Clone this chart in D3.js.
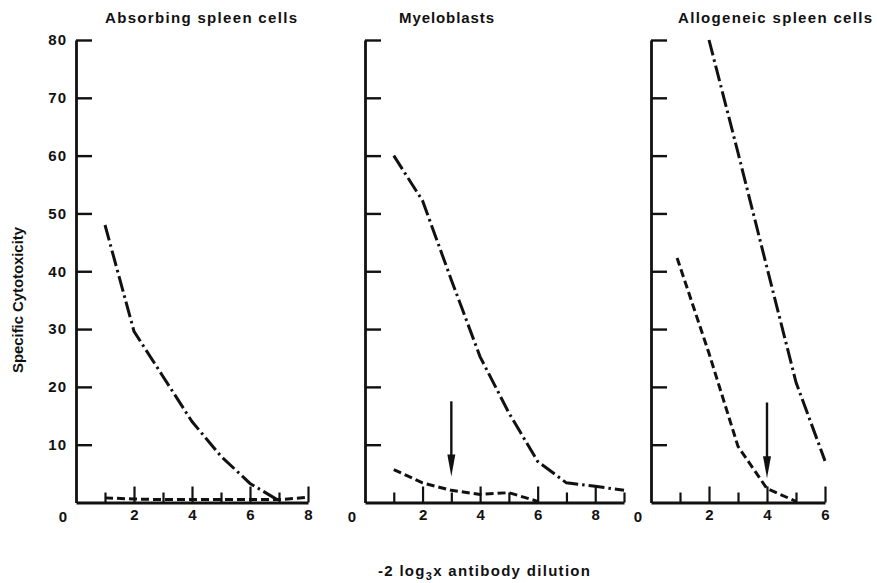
<!DOCTYPE html>
<html>
<head>
<meta charset="utf-8">
<script src="https://cdn.jsdelivr.net/npm/d3@7"></script>
<style>
  html, body { margin: 0; padding: 0; background: #fff; }
  svg text { font-family: "Liberation Sans", Arial, sans-serif; font-weight: bold; fill: #111; }
</style>
</head>
<body>
<svg id="chart" width="877" height="583"></svg>
<script>
// ---- data ----
const panelTitles = ["Absorbing spleen cells", "Myeloblasts", "Allogeneic spleen cells"];
const yTickValues = [10, 20, 30, 40, 50, 60, 70, 80];
const xMax = [8, 9, 6];

const absorbingDashDotX = [1, 2, 3, 4, 5, 6, 7];
const absorbingDashDot  = [48, 29.6, 21.8, 14, 8, 3.3, 0.3];
const absorbingDashedX  = [1, 2, 3, 4, 5, 6, 7, 8];
const absorbingDashed   = [0.8, 0.6, 0.5, 0.5, 0.5, 0.5, 0.5, 0.9];

const myeloDashDotX = [1, 2, 3, 4, 5, 6, 7, 8, 9];
const myeloDashDot  = [60, 52.2, 38.5, 25.2, 15.5, 7.1, 3.4, 2.8, 2.1];
const myeloDashedX  = [1, 2, 3, 4, 5, 6];
const myeloDashed   = [5.7, 3.4, 2.1, 1.4, 1.7, 0.2];

const alloDashDotX = [2, 3, 4, 5, 6];
const alloDashDot  = [80, 60.5, 40.6, 20.8, 7.2];
const alloDashedX  = [0.9, 2, 3, 4, 5];
const alloDashed   = [42.3, 25.8, 9.7, 2.4, 0.2];

// arrows: [x, top value, tip value] per panel (none in the first)
const arrowX    = [null, 3, 4];
const arrowTop  = [null, 17.5, 17.3];
const arrowTip  = [null, 4.5, 4.2];

const yLabel = "Specific Cytotoxicity";

// ---- layout ----
const svg = d3.select("#chart");
const pixelX = [[76, 308], [365, 624], [651, 825]];
const yPix = [502.5, 40];
const titleBox = [[105, 297], [399, 494], [678, 872]];
const series = [
  {dd: [absorbingDashDotX, absorbingDashDot], da: [absorbingDashedX, absorbingDashed]},
  {dd: [myeloDashDotX, myeloDashDot], da: [myeloDashedX, myeloDashed]},
  {dd: [alloDashDotX, alloDashDot], da: [alloDashedX, alloDashed]}
];

const y = d3.scaleLinear().domain([0, 80]).range(yPix);

panelTitles.forEach((title, i) => {
  const x = d3.scaleLinear().domain([0, xMax[i]]).range(pixelX[i]);
  const g = svg.append("g");

  // y axis
  const yAxis = d3.axisLeft(y).tickValues(yTickValues).tickSizeInner(-16).tickSizeOuter(0)
    .tickPadding(9).tickFormat(i === 0 ? d3.format("d") : () => "");
  const ya = g.append("g").attr("transform", `translate(${pixelX[i][0]},0)`).call(yAxis);
  ya.select(".domain").attr("stroke", "#111").attr("stroke-width", 2.8);
  ya.selectAll(".tick line").attr("stroke", "#111").attr("stroke-width", 2.4);
  ya.selectAll(".tick text").style("font-size", "15px").style("letter-spacing", "1px").attr("fill", "#111");

  // x axis: minor (odd) ticks
  const all = d3.range(1, xMax[i] + 1);
  const odd = all.filter(v => v % 2 === 1);
  const even = all.filter(v => v % 2 === 0);
  const xMinor = d3.axisBottom(x).tickValues(odd).tickSizeInner(-10).tickSizeOuter(0).tickFormat(() => "");
  const xm = g.append("g").attr("transform", `translate(0,${yPix[0]})`).call(xMinor);
  xm.select(".domain").attr("stroke", "#111").attr("stroke-width", 2.8);
  xm.selectAll(".tick line").attr("stroke", "#111").attr("stroke-width", 2.2);

  const xMajor = d3.axisBottom(x).tickValues(even).tickSizeInner(-16).tickSizeOuter(0).tickPadding(7)
    .tickFormat(d3.format("d"));
  const xM = g.append("g").attr("transform", `translate(0,${yPix[0]})`).call(xMajor);
  xM.select(".domain").remove();
  xM.selectAll(".tick line").attr("stroke", "#111").attr("stroke-width", 2.2);
  xM.selectAll(".tick text").style("font-size", "15px").attr("fill", "#111");

  // origin label
  g.append("text").attr("x", x(0) - 13).attr("y", yPix[0] + 19)
    .attr("text-anchor", "middle").style("font-size", "15px").text("0");

  // title
  g.append("text").attr("x", titleBox[i][0]).attr("y", 23)
    .attr("textLength", titleBox[i][1] - titleBox[i][0]).attr("lengthAdjust", "spacing")
    .style("font-size", "15px").text(title);

  const line = d3.line().x(d => x(d[0])).y(d => y(d[1]));
  const s = series[i];
  g.append("path").datum(d3.zip(s.dd[0], s.dd[1])).attr("d", line)
    .attr("fill", "none").attr("stroke", "#111").attr("stroke-width", 3)
    .attr("stroke-dasharray", "16,4,2.5,4");
  g.append("path").datum(d3.zip(s.da[0], s.da[1])).attr("d", line)
    .attr("fill", "none").attr("stroke", "#111").attr("stroke-width", 3)
    .attr("stroke-dasharray", "8,4");

  // arrow
  if (arrowX[i] !== null) {
    const ax = x(arrowX[i]), yt = y(arrowTop[i]), yb = y(arrowTip[i]);
    g.append("line").attr("x1", ax).attr("x2", ax).attr("y1", yt).attr("y2", yb - 18)
      .attr("stroke", "#111").attr("stroke-width", 2.4);
    g.append("path").attr("d", `M${ax - 4},${yb - 22} L${ax + 4},${yb - 22} L${ax},${yb} Z`)
      .attr("fill", "#111");
  }
});

// y label
svg.append("text").attr("transform", "translate(23,300) rotate(-90)")
  .attr("text-anchor", "middle").attr("textLength", 146).attr("lengthAdjust", "spacing")
  .style("font-size", "15px").text(yLabel);

// x label with subscript
const xl = svg.append("text").attr("x", 378).attr("y", 576)
  .attr("textLength", 212).attr("lengthAdjust", "spacing").style("font-size", "15px");
xl.append("tspan").text("-2 log");
xl.append("tspan").attr("dy", 4).style("font-size", "11px").text("3");
xl.append("tspan").attr("dy", -4).text("x antibody dilution");
</script>
</body>
</html>
